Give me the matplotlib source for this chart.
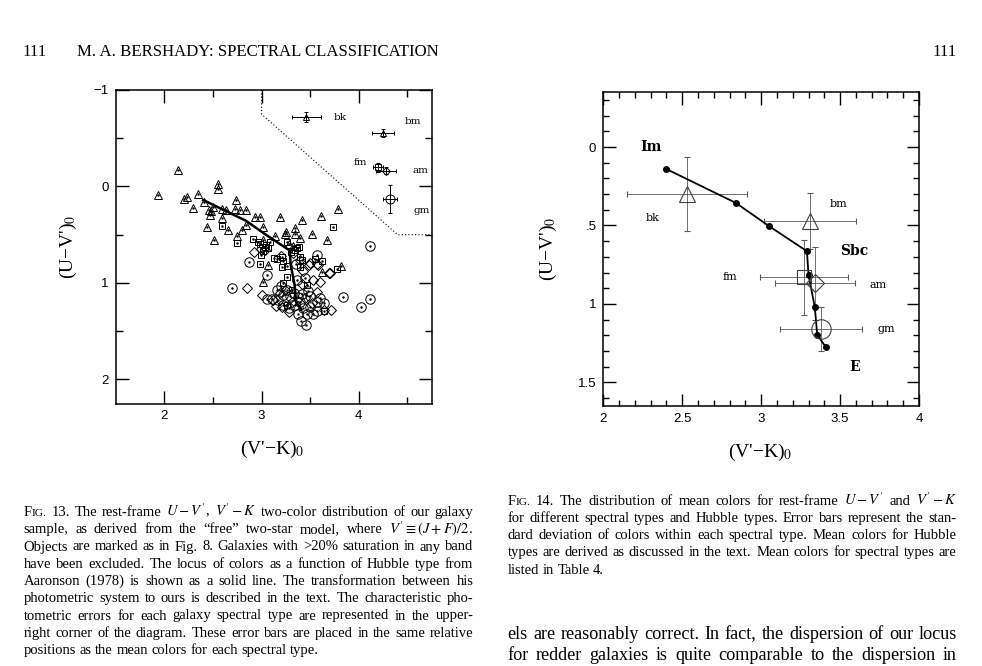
import matplotlib
matplotlib.use('Agg')
import matplotlib.pyplot as plt
import matplotlib.transforms as mtransforms
from matplotlib.ticker import FixedLocator
import numpy as np

plt.rcParams['mathtext.fontset'] = 'stix'
plt.rcParams['font.family'] = ['Liberation Serif', 'DejaVu Serif']

# ------------------------------------------------------------------ data
# Fig. 13 : individual galaxies, (V'-K)_0 and (U-V')_0, by spectral class
tri_x = [1.93, 2.14, 2.20, 2.23, 2.35, 2.30, 2.55, 2.55, 2.41, 2.46, 2.47, 2.48,
         2.50, 2.59, 2.635, 2.44, 2.51, 2.66, 2.59, 2.74, 2.73, 2.78, 2.84, 2.75,
         2.80, 2.84, 2.93, 2.98, 3.02, 3.02, 3.19, 3.14, 3.25, 3.24, 3.34, 3.34,
         3.42, 3.40, 3.52, 3.61, 3.67, 3.79, 3.07, 3.01, 3.82, 3.62, 3.32, 3.28]
tri_y = [0.09, -0.17, 0.13, 0.11, 0.08, 0.22, -0.03, 0.03, 0.16, 0.24, 0.30, 0.25,
         0.21, 0.23, 0.24, 0.42, 0.56, 0.455, 0.33, 0.14, 0.23, 0.24, 0.24, 0.51,
         0.455, 0.40, 0.32, 0.32, 0.42, 0.55, 0.32, 0.51, 0.47, 0.49, 0.43, 0.49,
         0.345, 0.53, 0.49, 0.31, 0.56, 0.23, 0.81, 0.99, 0.82, 0.89, 0.62, 0.60]

sq_x = [2.59, 2.75, 2.91, 2.96, 2.98, 3.05, 3.07, 3.09, 3.26, 3.73, 2.995, 3.02,
        3.13, 3.21, 3.16, 3.225, 3.40, 3.385, 3.34, 3.42, 3.55, 3.625, 3.78, 2.98,
        3.26, 3.26, 3.47, 3.64, 3.21, 3.22, 3.40, 3.26, 3.31, 3.36, 3.04, 3.30]
sq_y = [0.41, 0.59, 0.54, 0.58, 0.60, 0.61, 0.64, 0.58, 0.58, 0.42, 0.71, 0.67,
        0.74, 0.73, 0.75, 0.77, 0.73, 0.63, 0.66, 0.765, 0.755, 0.77, 0.86, 0.80,
        0.82, 0.94, 1.02, 1.29, 0.83, 1.00, 0.83, 1.23, 1.07, 0.64, 0.63, 0.68]

dia_x = [2.92, 2.99, 3.04, 2.85, 3.00, 3.20, 3.49, 3.585, 3.69, 3.71, 3.43, 3.53,
         3.57, 3.24, 3.21, 3.31, 3.52, 3.12, 3.40, 3.32, 3.60, 3.42, 3.19, 3.64,
         3.50, 3.567, 3.70, 3.28, 3.15, 3.45]
dia_y = [0.68, 0.645, 0.655, 1.05, 1.13, 0.72, 0.81, 0.81, 0.90, 1.28, 0.875, 0.97,
         1.09, 1.07, 1.25, 1.20, 1.21, 1.18, 0.76, 0.69, 0.99, 1.01, 1.10, 1.28,
         0.79, 0.807, 0.896, 1.30, 1.24, 1.16]

circ_x = [2.875, 3.06, 2.70, 3.84, 4.02, 4.12, 4.12, 3.355, 3.16, 3.26, 3.17, 3.225,
          3.105, 3.055, 3.29, 3.42, 3.50, 3.57, 3.64, 3.37, 3.47, 3.41, 3.46, 3.57,
          3.50, 3.345, 3.28, 3.40, 3.43, 3.60, 3.36, 3.45, 3.57, 3.48, 3.20, 3.33,
          3.38, 3.53, 3.22]
circ_y = [0.78, 0.92, 1.05, 1.15, 1.25, 1.17, 0.62, 0.80, 1.07, 1.075, 1.18, 1.23,
          1.17, 1.17, 1.14, 1.11, 1.14, 1.20, 1.21, 1.32, 1.32, 1.39, 1.44, 1.29,
          1.25, 1.23, 1.26, 1.20, 1.26, 1.16, 0.97, 0.95, 0.71, 1.08, 1.03, 1.10,
          1.15, 1.32, 1.13]

# characteristic photometric errors (upper-right corner of Fig. 13)
err_types = ['bk', 'bm', 'fm', 'am', 'gm']
err_x = [3.46, 4.25, 4.20, 4.28, 4.32]
err_y = [-0.72, -0.555, -0.20, -0.165, 0.127]
err_xerr = [0.15, 0.11, 0.05, 0.10, 0.07]
err_yerr = [0.05, 0.04, 0.045, 0.04, 0.145]
err_lab_x = [3.74, 4.47, 3.95, 4.55, 4.56]
err_lab_y = [-0.72, -0.675, -0.25, -0.165, 0.25]

# dotted boundary in Fig. 13
bound_x = [3.0, 3.0, 4.4, 4.75]
bound_y = [-1.0, -0.75, 0.5, 0.5]

# Hubble-type locus (Aaronson 1978)
locus_x = [2.40, 2.84, 3.05, 3.29, 3.30, 3.34, 3.355, 3.41]
locus_y = [0.14, 0.356, 0.504, 0.664, 0.813, 1.022, 1.196, 1.277]

# Fig. 14 : mean colours per spectral type
spec_types = ['bk', 'bm', 'fm', 'am', 'gm']
mean_x = [2.53, 3.31, 3.27, 3.34, 3.38]
mean_y = [0.30, 0.47, 0.83, 0.87, 1.16]
mean_xerr = [0.38, 0.29, 0.28, 0.255, 0.26]
mean_yerr = [0.235, 0.18, 0.24, 0.235, 0.14]
spec_lab_x = [2.31, 3.49, 2.80, 3.74, 3.79]
spec_lab_y = [0.45, 0.36, 0.83, 0.877, 1.16]

hubble_types = ['Im', 'Sbc', 'E']
hubble_lab_x = [2.30, 3.59, 3.59]
hubble_lab_y = [0.0, 0.66, 1.405]

# ticks
f13_xmajor = [2, 3, 4]
f13_xminor = [2.5, 3.5, 4.5]
f13_ymajor = [-1, 0, 1, 2]
f13_ylabels = ['\u22121', '0', '1', '2']
f13_yminor = [-0.5, 0.5, 1.5]
f14_xmajor = [2, 2.5, 3, 3.5, 4]
f14_xlabels = ['2', '2.5', '3', '3.5', '4']
f14_ymajor = [0, 0.5, 1, 1.5]
f14_ylabels = ['0', '.5', '1', '1.5']

# ------------------------------------------------------------------ figure
W, H = 982, 666
fig = plt.figure(figsize=(W / 100, H / 100), dpi=100)
fig.patch.set_facecolor('white')


def px_axes(x0, y0, x1, y1):
    return fig.add_axes([x0 / W, 1 - y1 / H, (x1 - x0) / W, (y1 - y0) / H])


TICKFONT = 'Liberation Sans'

# ---------------- Fig. 13
ax1 = px_axes(115.7, 90, 431.7, 403.5)
ax1.set_xlim(1.5, 4.75)
ax1.set_ylim(2.25, -1.0)
ax1.xaxis.set_major_locator(FixedLocator(f13_xmajor))
ax1.xaxis.set_minor_locator(FixedLocator(f13_xminor))
ax1.set_xticklabels([str(v) for v in f13_xmajor])
ax1.yaxis.set_major_locator(FixedLocator(f13_ymajor))
ax1.yaxis.set_minor_locator(FixedLocator(f13_yminor))
ax1.set_yticklabels(f13_ylabels)
ax1.tick_params(which='both', direction='in', top=True, right=True, width=1.0,
                labelsize=9.5, labelfontfamily=TICKFONT, pad=5)
ax1.tick_params(which='major', length=9.5)
ax1.tick_params(which='minor', length=5)
for s in ax1.spines.values():
    s.set_linewidth(1.1)

mk = dict(ls='none', mfc='none', mec='black', mew=0.7)
ax1.plot(tri_x, tri_y, marker='^', ms=6.3, **mk)
ax1.plot(tri_x, tri_y, marker='.', ms=1.5, ls='none', color='black')
ax1.plot(sq_x, sq_y, marker='s', ms=5.0, **mk)
ax1.plot(sq_x, sq_y, marker='.', ms=1.5, ls='none', color='black')
ax1.plot(dia_x, dia_y, marker='D', ms=4.6, **mk)
ax1.plot(circ_x, circ_y, marker='o', ms=6.8, **mk)
ax1.plot(circ_x, circ_y, marker='.', ms=1.5, ls='none', color='black')
ax1.plot(locus_x, locus_y, color='black', lw=1.8)
ax1.plot(bound_x, bound_y, color='black', lw=0.8, ls=(0, (1, 2)))

err_markers = {'bk': ('^', 5), 'bm': ('^', 4.5), 'fm': ('s', 5), 'am': ('D', 4), 'gm': ('o', 6.5)}
for t, x, y, xe, ye, lx, ly in zip(err_types, err_x, err_y, err_xerr, err_yerr,
                                   err_lab_x, err_lab_y):
    m, s = err_markers[t]
    ax1.errorbar([x], [y], xerr=[xe], yerr=[ye], fmt=m, ms=s, mfc='none', mec='black',
                 mew=0.7, ecolor='black', elinewidth=0.7, capsize=1.5, capthick=0.7)
    ax1.text(lx, ly, t, fontsize=7.5, family='DejaVu Serif', ha='left', va='center')

ax1.set_xlabel("(V'\u2212K)$_0$", fontsize=14)
ax1.set_ylabel("(U\u2212V')$_0$", fontsize=14, va='center')
ax1.xaxis.set_label_coords(0.495, -0.148)
ax1.yaxis.set_label_coords(-0.148, 0.5)
ax1.xaxis.label.set_va('center')

# ---------------- Fig. 14
ax2 = px_axes(603.3, 92.3, 919.0, 405.7)
ax2.set_xlim(2.0, 4.0)
ax2.set_ylim(1.65, -0.35)
ax2.xaxis.set_major_locator(FixedLocator(f14_xmajor))
ax2.xaxis.set_minor_locator(FixedLocator(np.round(np.arange(2.0, 4.001, 0.1), 2)))
ax2.set_xticklabels(f14_xlabels)
ax2.yaxis.set_major_locator(FixedLocator(f14_ymajor))
ax2.yaxis.set_minor_locator(FixedLocator(np.round(np.arange(-0.3, 1.601, 0.1), 2)))
ax2.set_yticklabels(f14_ylabels)
ax2.tick_params(which='both', direction='in', top=True, right=True, width=1.0,
                labelsize=9.5, labelfontfamily=TICKFONT, pad=5)
ax2.tick_params(which='major', length=9)
ax2.tick_params(which='minor', length=4.5)
for s in ax2.spines.values():
    s.set_linewidth(1.1)

big_markers = {'bk': ('^', 11), 'bm': ('^', 11), 'fm': ('s', 10), 'am': ('D', 9), 'gm': ('o', 14)}
for t, x, y, xe, ye in zip(spec_types, mean_x, mean_y, mean_xerr, mean_yerr):
    m, s = big_markers[t]
    ax2.errorbar([x], [y], xerr=[xe], yerr=[ye], fmt=m, ms=s, mfc='none', mec='0.25',
                 mew=0.8, ecolor='0.35', elinewidth=0.6, capsize=2, capthick=0.6)
ax2.plot(locus_x, locus_y, color='black', lw=1.3, marker='o', ms=4)
for t, x, y in zip(spec_types, spec_lab_x, spec_lab_y):
    ax2.text(x, y, t, fontsize=8, family='DejaVu Serif', ha='center', va='center')
for t, x, y in zip(hubble_types, hubble_lab_x, hubble_lab_y):
    ax2.text(x, y, t, fontsize=10, family='DejaVu Serif', weight='bold',
             ha='center', va='center')

ax2.set_xlabel("(V'\u2212K)$_0$", fontsize=14)
ax2.set_ylabel("(U\u2212V')$_0$", fontsize=14, va='center')
ax2.xaxis.set_label_coords(0.496, -0.148)
ax2.yaxis.set_label_coords(-0.175, 0.5)
ax2.xaxis.label.set_va('center')

# ---------------- page text
IDT = mtransforms.IdentityTransform()
renderer = fig.canvas.get_renderer()


def ptext(x, ybase, s, fs, **kw):
    return fig.text(x, H - ybase, s, fontsize=fs, transform=IDT, va='baseline',
                    family='Liberation Serif', **kw)


ht = ptext(77, 56, 'M. A. BERSHADY: SPECTRAL CLASSIFICATION', 11.5)
w = ht.get_window_extent(renderer).width
ht.set_fontsize(11.5 * 362 / w)
ptext(22.5, 56, '111', ht.get_fontsize())
ptext(957, 56, '111', ht.get_fontsize(), ha='right')


def place_line(line, x0, x1, ybase, fs, justify):
    groups = []
    for tok in line.split(' '):
        segs = [('F', 1.0), ('IG.', 0.78)] if tok == 'FIG.' else [(tok, 1.0)]
        groups.append([ptext(0, ybase, s, fs * f) for s, f in segs])
    widths = [[t.get_window_extent(renderer).width for t in g] for g in groups]
    total = sum(sum(ws) for ws in widths)
    if justify and len(groups) > 1:
        gap = (x1 - x0 - total) / (len(groups) - 1)
    else:
        gap = fs * 100 / 72 * 0.25
    x = x0
    for g, ws in zip(groups, widths):
        for t, wd in zip(g, ws):
            t.set_x(x)
            x += wd
        x += gap


cap13 = [
    "FIG. 13. The rest-frame $U-V'$, $V'-K$ two-color distribution of our galaxy",
    "sample, as derived from the \u201cfree\u201d two-star model, where $V'\\equiv(J+F)/2$.",
    "Objects are marked as in Fig. 8. Galaxies with >20% saturation in any band",
    "have been excluded. The locus of colors as a function of Hubble type from",
    "Aaronson (1978) is shown as a solid line. The transformation between his",
    "photometric system to ours is described in the text. The characteristic pho-",
    "tometric errors for each galaxy spectral type are represented in the upper-",
    "right corner of the diagram. These error bars are placed in the same relative",
    "positions as the mean colors for each spectral type.",
]
for i, line in enumerate(cap13):
    place_line(line, 23.5, 473.3, 516 + 17.25 * i, 10.5, i < len(cap13) - 1)

cap14 = [
    "FIG. 14. The distribution of mean colors for rest-frame $U-V'$ and $V'-K$",
    "for different spectral types and Hubble types. Error bars represent the stan-",
    "dard deviation of colors within each spectral type. Mean colors for Hubble",
    "types are derived as discussed in the text. Mean colors for spectral types are",
    "listed in Table 4.",
]
for i, line in enumerate(cap14):
    place_line(line, 507.5, 956.7, 505 + 17.15 * i, 10.5, i < len(cap14) - 1)

body = [
    "els are reasonably correct. In fact, the dispersion of our locus",
    "for redder galaxies is quite comparable to the dispersion in",
]
for i, line in enumerate(body):
    place_line(line, 507.5, 956.7, 639 + 20.7 * i, 13.1, True)

fig.savefig('out.png', dpi=100, facecolor='white')
